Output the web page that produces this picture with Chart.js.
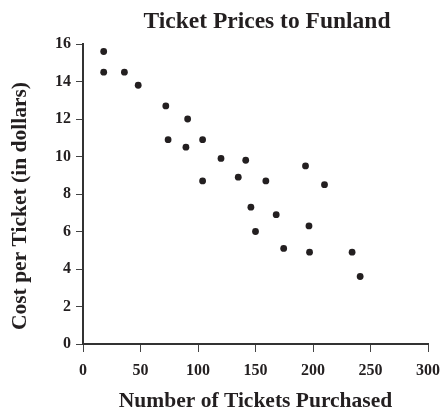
<!DOCTYPE html>
<html><head><meta charset="utf-8">
<script src="https://cdn.jsdelivr.net/npm/chart.js@4/dist/chart.umd.min.js"></script>
<style>html,body{margin:0;padding:0;background:#fff}</style>
</head><body>
<canvas id="c" width="442" height="410"></canvas>
<script>
const chartTitle = "Ticket Prices to Funland";
const xAxisTitle = "Number of Tickets Purchased";
const yAxisTitle = "Cost per Ticket (in dollars)";
const ticketsPurchased = [18, 18, 36, 48, 72, 74, 91, 89.5, 104, 104, 120, 141.5, 135, 159, 193.5, 210, 146, 168, 150, 196.5, 174.5, 197, 234, 241];
const costPerTicket   = [15.6, 14.5, 14.5, 13.8, 12.7, 10.9, 12, 10.5, 10.9, 8.7, 9.9, 9.8, 8.9, 8.7, 9.5, 8.5, 7.3, 6.9, 6.0, 6.3, 5.1, 4.9, 4.9, 3.6];
const xTickValues = [0, 50, 100, 150, 200, 250, 300];
const yTickValues = [0, 2, 4, 6, 8, 10, 12, 14, 16];

const INK = '#231f20';
const FONT = '"Liberation Serif", "Times New Roman", serif';

const points = ticketsPurchased.map((x, i) => ({x: x, y: costPerTicket[i]}));

const titlesPlugin = {
  id: 'titles',
  afterDraw(chart) {
    const ctx = chart.ctx;
    ctx.save();
    ctx.fillStyle = INK;
    ctx.textAlign = 'center';
    ctx.textBaseline = 'middle';
    ctx.font = 'bold 23.5px ' + FONT;
    ctx.fillText(chartTitle, 267, 22);
    ctx.font = 'bold 21.5px ' + FONT;
    ctx.translate(20, 206);
    ctx.rotate(-Math.PI / 2);
    ctx.fillText(yAxisTitle, 0, 0);
    ctx.restore();
  }
};

new Chart(document.getElementById('c'), {
  type: 'scatter',
  data: {
    datasets: [{
      data: points,
      backgroundColor: INK,
      borderColor: INK,
      pointRadius: 3.4,
      pointHoverRadius: 3.4,
      borderWidth: 0
    }]
  },
  options: {
    responsive: false,
    animation: false,
    layout: { padding: { top: 44, right: 14, left: 0, bottom: 0 } },
    plugins: { legend: { display: false }, tooltip: { enabled: false }, title: { display: false } },
    scales: {
      x: {
        type: 'linear', min: 0, max: 300,
        afterBuildTicks: s => { s.ticks = xTickValues.map(v => ({value: v})); },
        afterFit: s => { s.height = 66; s.paddingLeft = 0; s.paddingRight = 0; },
        grid: { drawOnChartArea: false, drawTicks: true, tickLength: 8, color: '#444', lineWidth: 1 },
        border: { display: true, color: '#333', width: 2 },
        ticks: { color: INK, font: { family: FONT, size: 16, weight: 'bold' }, padding: 9, maxRotation: 0 },
        title: { display: true, text: xAxisTitle, color: INK, font: { family: FONT, size: 21.5, weight: 'bold', lineHeight: 1 }, padding: { top: 4, bottom: -2 } }
      },
      y: {
        type: 'linear', min: 0, max: 16,
        afterBuildTicks: s => { s.ticks = yTickValues.map(v => ({value: v})); },
        afterFit: s => { s.width = 83; s.paddingTop = 0; s.paddingBottom = 0; },
        grid: { drawOnChartArea: false, drawTicks: true, tickLength: 7, color: '#444', lineWidth: 1 },
        border: { display: true, color: '#333', width: 2 },
        ticks: { color: INK, font: { family: FONT, size: 16, weight: 'bold' }, padding: 5 }
      }
    }
  },
  plugins: [titlesPlugin]
});
</script>
</body></html>
